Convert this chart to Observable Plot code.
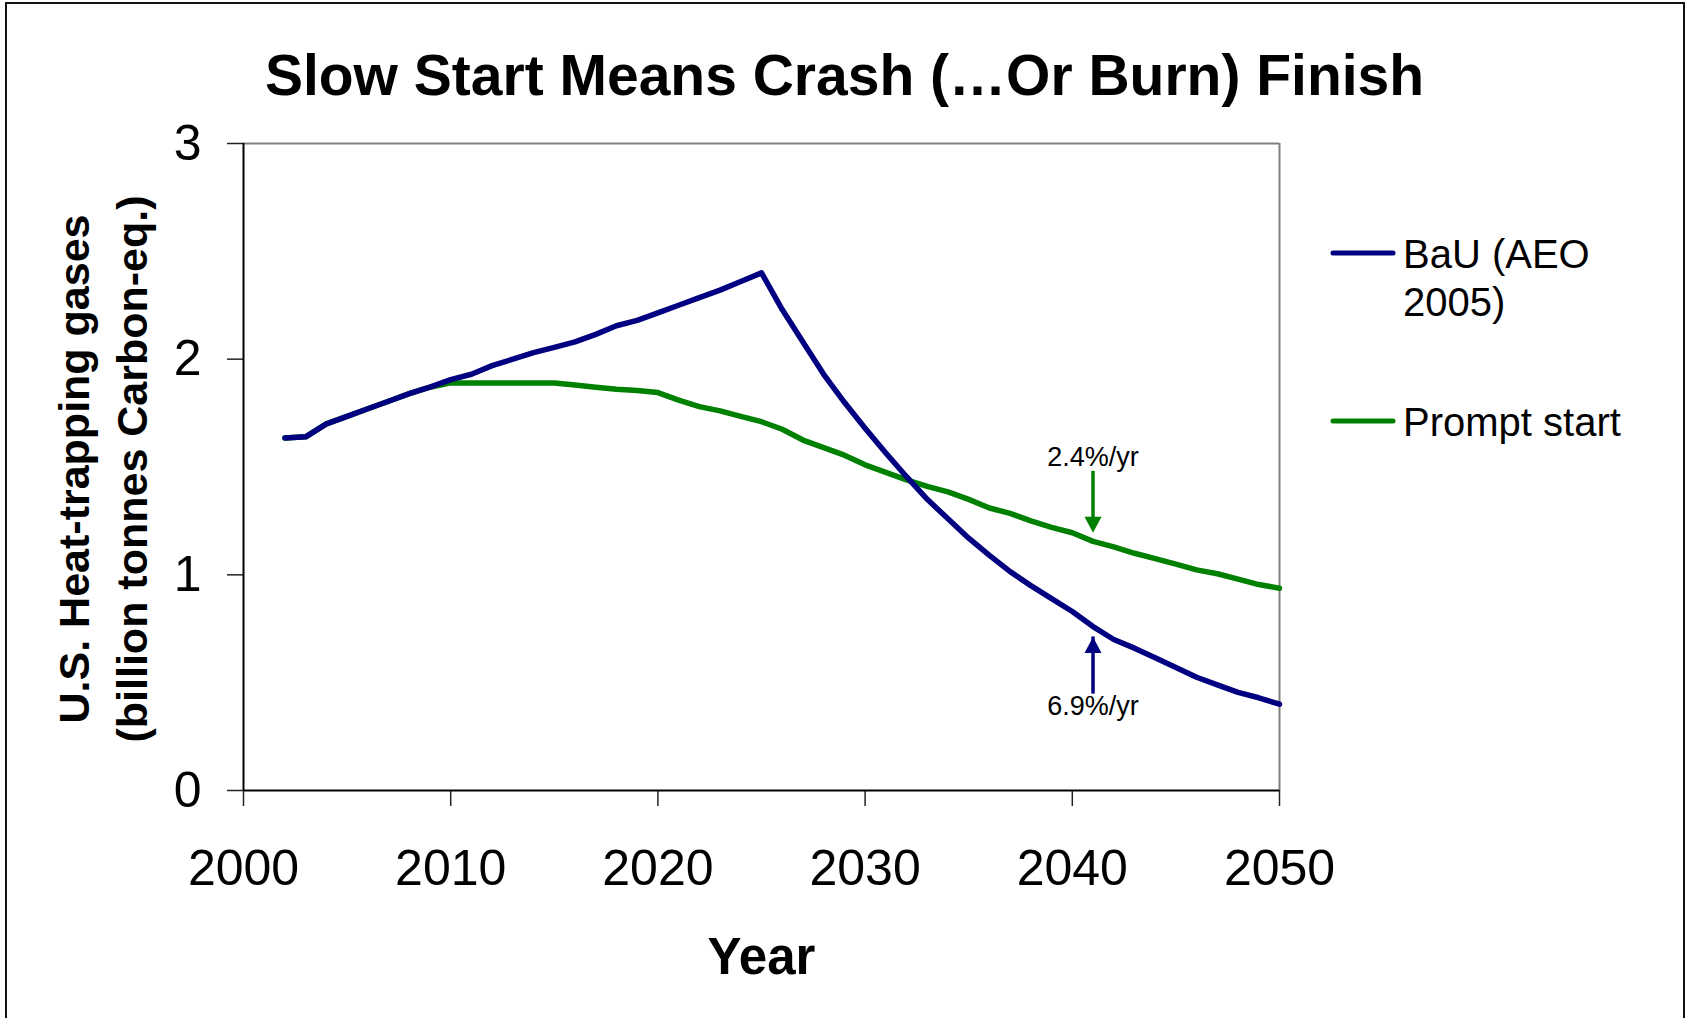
<!DOCTYPE html>
<html>
<head>
<meta charset="utf-8">
<script src="https://cdn.jsdelivr.net/npm/d3@7"></script>
<script src="https://cdn.jsdelivr.net/npm/@observablehq/plot@0.6"></script>
<style>
  html, body { margin: 0; padding: 0; background: #fff; overflow: hidden; }
  #wrap { position: relative; width: 1686px; height: 1018px; font-family: "Liberation Sans", Arial, sans-serif; }
  #border { position: absolute; left: 5px; top: 2px; width: 1680px; height: 1040px; border: 2px solid #111; box-sizing: border-box; pointer-events: none; }
  #chart { position: absolute; left: 0; top: 0; }
  #legend { position: absolute; left: 0; top: 0; pointer-events: none; }
</style>
</head>
<body>
<div id="wrap">
  <div id="chart"></div>
  <svg id="legend" width="1686" height="1018"></svg>
  <div id="border"></div>
</div>
<script>
// ---- data ----
const years = [2002, 2003, 2004, 2005, 2006, 2007, 2008, 2009,
  2010, 2011, 2012, 2013, 2014, 2015, 2016, 2017, 2018, 2019,
  2020, 2021, 2022, 2023, 2024, 2025, 2026, 2027, 2028, 2029,
  2030, 2031, 2032, 2033, 2034, 2035, 2036, 2037, 2038, 2039,
  2040, 2041, 2042, 2043, 2044, 2045, 2046, 2047, 2048, 2049, 2050];

const bau = [1.635, 1.64, 1.70, 1.735, 1.77, 1.805, 1.84, 1.87,
  1.905, 1.93, 1.97, 2.00, 2.03, 2.055, 2.08, 2.115, 2.155, 2.18,
  2.215, 2.25, 2.285, 2.32, 2.36, 2.40, 2.23, 2.08, 1.93, 1.80,
  1.68, 1.565, 1.455, 1.35, 1.26, 1.17, 1.09, 1.015, 0.95, 0.89,
  0.83, 0.76, 0.70, 0.66, 0.615, 0.57, 0.525, 0.49, 0.455, 0.43, 0.40];

const prompt = [1.635, 1.64, 1.70, 1.735, 1.77, 1.805, 1.84, 1.87,
  1.89, 1.89, 1.89, 1.89, 1.89, 1.89, 1.88, 1.87, 1.86, 1.855,
  1.845, 1.81, 1.78, 1.76, 1.735, 1.71, 1.675, 1.625, 1.59, 1.555,
  1.51, 1.475, 1.44, 1.41, 1.385, 1.35, 1.31, 1.285, 1.25, 1.22,
  1.195, 1.155, 1.13, 1.10, 1.075, 1.05, 1.023, 1.005, 0.98, 0.955, 0.938];

const seriesNames = ["BaU (AEO 2005)", "Prompt start"];
const seriesColors = ["#000080", "#008000"];

const xTicks = [2000, 2010, 2020, 2030, 2040, 2050];
const yTicks = [0, 1, 2, 3];

const title = "Slow Start Means Crash (…Or Burn) Finish";
const yLabel = "U.S. Heat-trapping gases\n(billion tonnes Carbon-eq.)";
const xLabel = "Year";

// annotation arrows: year, arrow start value, arrow tip value, label
const greenArrow = {year: 2041, from: 1.48, to: 1.195, label: "2.4%/yr"};
const blueArrow = {year: 2041, from: 0.484, to: 0.712, label: "6.9%/yr"};

// ---- build tables ----
const bauRows = years.map((y, i) => ({year: y, value: bau[i]}));
const promptRows = years.map((y, i) => ({year: y, value: prompt[i]}));

const arrowHead = {
  draw(context) {
    context.moveTo(0, 0);
    context.lineTo(8.5, 16);
    context.lineTo(-8.5, 16);
    context.closePath();
  }
};

const font = "'Liberation Sans', Arial, Helvetica, sans-serif";

const chart = Plot.plot({
  width: 1686,
  height: 1018,
  marginLeft: 243,
  marginRight: 407,
  marginTop: 143,
  marginBottom: 228,
  style: {fontFamily: font, background: "transparent", color: "#000", overflow: "visible"},
  x: {domain: [2000, 2050]},
  y: {domain: [0, 3]},
  marks: [
    Plot.ruleY([3], {stroke: "#808080", strokeWidth: 2}),
    Plot.ruleX([2050], {stroke: "#808080", strokeWidth: 2}),
    Plot.axisX({ticks: xTicks, tickSize: 16, tickPadding: 43, fontSize: 50, tickFormat: d => String(d), label: null, stroke: "#222", strokeWidth: 1.5}),
    Plot.axisY({ticks: yTicks, tickSize: 16, tickPadding: 26, fontSize: 50, tickFormat: d => String(d), label: null, stroke: "#222", strokeWidth: 1.5}),
    Plot.ruleX([2000], {stroke: "#000", strokeWidth: 2}),
    Plot.ruleY([0], {stroke: "#000", strokeWidth: 2}),
    Plot.line(promptRows, {x: "year", y: "value", stroke: seriesColors[1], strokeWidth: 5.5, strokeLinejoin: "round", strokeLinecap: "round"}),
    Plot.line(bauRows, {x: "year", y: "value", stroke: seriesColors[0], strokeWidth: 5.5, strokeLinejoin: "round", strokeLinecap: "round"}),
    // arrows
    Plot.ruleX([greenArrow], {x: "year", y1: "from", y2: "to", stroke: seriesColors[1], strokeWidth: 3.5, insetBottom: 8}),
    Plot.dot([greenArrow], {x: "year", y: "to", symbol: arrowHead, fill: seriesColors[1], stroke: "none", rotate: 180}),
    Plot.text([greenArrow], {x: "year", y: "from", text: "label", fontSize: 27, lineAnchor: "bottom", dy: -5}),
    Plot.ruleX([blueArrow], {x: "year", y1: "from", y2: "to", stroke: seriesColors[0], strokeWidth: 3.5, insetTop: 8}),
    Plot.dot([blueArrow], {x: "year", y: "to", symbol: arrowHead, fill: seriesColors[0], stroke: "none"}),
    Plot.text([blueArrow], {x: "year", y: "from", text: "label", fontSize: 27, lineAnchor: "bottom", dy: 29}),
    // titles
    Plot.text([title], {text: d => d, frameAnchor: "top", textAnchor: "middle", dx: 83, dy: -49, lineAnchor: "bottom", fontSize: 57, fontWeight: "bold"}),
    Plot.text([xLabel], {text: d => d, frameAnchor: "bottom", textAnchor: "middle", dy: 183, lineAnchor: "bottom", fontSize: 51, fontWeight: "bold"}),
    Plot.text([yLabel], {text: d => d, frameAnchor: "left", textAnchor: "middle", dx: -144, dy: 2, rotate: -90, lineAnchor: "middle", lineHeight: 1.35, fontSize: 43, fontWeight: "bold"})
  ]
});
document.getElementById("chart").appendChild(chart);

// ---- legend ----
const legend = d3.select("#legend").style("font-family", font);
const legendItems = [
  {color: seriesColors[0], lines: ["BaU (AEO", "2005)"], y: 253},
  {color: seriesColors[1], lines: ["Prompt start"], y: 421}
];
legendItems.forEach(item => {
  legend.append("line")
    .attr("x1", 1333).attr("x2", 1393)
    .attr("y1", item.y).attr("y2", item.y)
    .attr("stroke", item.color).attr("stroke-width", 5).attr("stroke-linecap", "round");
  item.lines.forEach((t, i) => {
    legend.append("text")
      .attr("x", 1403).attr("y", item.y + 15 + i * 48)
      .attr("font-size", 40).attr("fill", "#000")
      .text(t);
  });
});
</script>
</body>
</html>
